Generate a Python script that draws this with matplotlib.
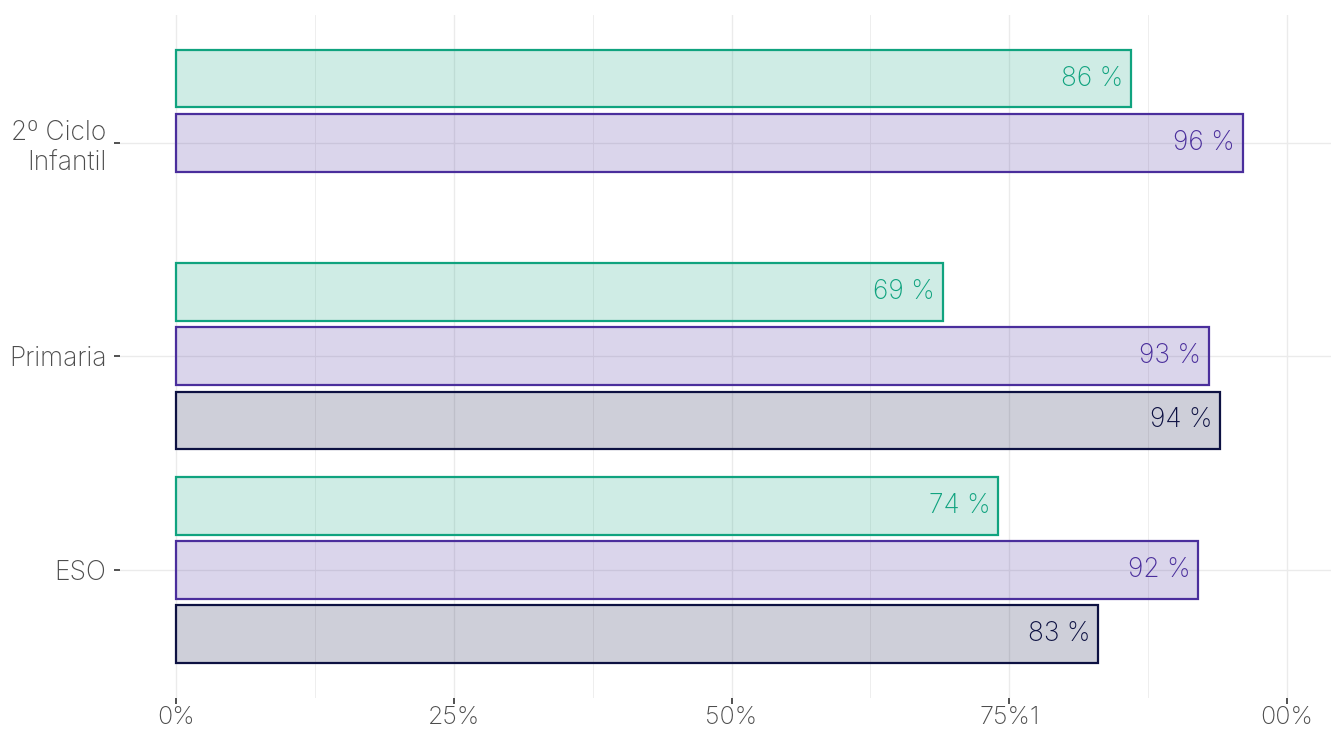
import numpy as np
import matplotlib.pyplot as plt

# Share of each school stage, per series (None = no bar)
categories = ['ESO', 'Primaria', '2º Ciclo\nInfantil']
serie_a = [0.74, 0.69, 0.86]
serie_b = [0.92, 0.93, 0.96]
serie_c = [0.83, 0.94, None]
x_ticks = [0, 0.25, 0.5, 0.75, 1.0]
x_ticklabels = ['0%', '25%', '50%', '75%1', '00%']

series = [serie_a, serie_b, serie_c]
edge_colors = ['#10a37f', '#4a2e9c', '#0d1142']
offsets = [0.3, 0.0, -0.3]
bar_h = 0.27

plt.rcParams['font.family'] = ['Inter', 'DejaVu Sans']
plt.rcParams['font.weight'] = 'light'

fig = plt.figure(figsize=(13.31, 7.33), dpi=100)
W, H = 1331, 733
x0_px, x1_px = 176, 1287
unit = x1_px - x0_px
left = x0_px - 0.05 * unit
ax = fig.add_axes([left / W, 35 / H, 1.1 * unit / W, 683.4 / H])

y_pos = np.arange(1, len(categories) + 1)

for vals, col, off in zip(series, edge_colors, offsets):
    for y, v in zip(y_pos, vals):
        if v is None:
            continue
        ax.barh(y + off, v, height=bar_h, left=0, color=col, alpha=0.2,
                edgecolor='none', zorder=2)
        ax.barh(y + off, v, height=bar_h, left=0, facecolor='none',
                edgecolor=col, linewidth=1.6, zorder=3)
        ax.text(v - 0.007, y + off, f'{round(v * 100)} %', ha='right',
                va='center', color=col, fontsize=19, zorder=4)

ax.set_xlim(-0.05, 1.05)
ax.set_ylim(0.4, 3.6)

ax.set_xticks(x_ticks)
ax.set_xticklabels(x_ticklabels)
ax.set_xticks([0.125, 0.375, 0.625, 0.875], minor=True)
ax.set_yticks(y_pos)
ax.set_yticklabels(categories, ha='right', linespacing=1.25)

ax.grid(True, which='major', color='#ebebeb', linewidth=1.0, zorder=0)
ax.grid(True, which='minor', axis='x', color='#ebebeb', linewidth=0.6, zorder=0)
ax.tick_params(axis='both', which='major', length=4, width=1.2, color='#333333',
               labelcolor='#4d4d4d', labelsize=19)
ax.tick_params(axis='x', which='major', labelsize=18, pad=2)
ax.tick_params(axis='x', which='minor', length=0)
ax.tick_params(axis='y', pad=6)
for s in ax.spines.values():
    s.set_visible(False)

fig.savefig('out.png', dpi=100)
